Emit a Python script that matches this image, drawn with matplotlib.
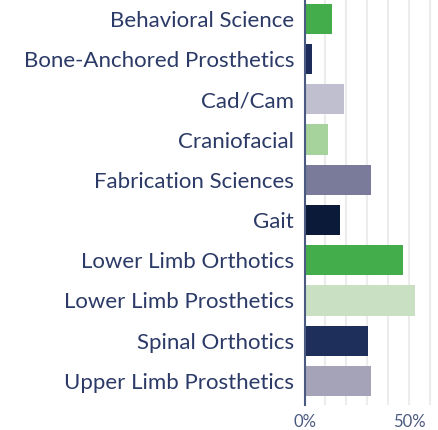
import matplotlib.pyplot as plt
import numpy as np

categories = ['Behavioral Science', 'Bone-Anchored Prosthetics', 'Cad/Cam',
              'Craniofacial', 'Fabrication Sciences', 'Gait',
              'Lower Limb Orthotics', 'Lower Limb Prosthetics',
              'Spinal Orthotics', 'Upper Limb Prosthetics']
values = [13.2, 3.6, 18.9, 11.2, 31.8, 17.0, 47.1, 52.9, 30.2, 31.8]
colors = ['#44ad4b', '#1c2d5c', '#c0bfd0', '#a6d39b', '#7a7a9a',
          '#0c1a3a', '#44ad4b', '#c9e0c2', '#1e2f5c', '#a4a3b8']
tick_vals = [0, 50]
tick_labels = ['0%', '50%']
grid_vals = [10, 20, 30, 40, 50, 60]

text_color = '#2b3a66'
axis_color = '#4b5a80'

fig = plt.figure(figsize=(4.39, 4.30), dpi=100)
ax = fig.add_axes([304.5 / 439, 1 - 405 / 430, 1 - 304.5 / 439, 405 / 430])

y = np.arange(len(categories))
ax.barh(y, values, height=0.75, color=colors, zorder=2)

ax.set_xlim(0, 64.4)
ax.set_ylim(9.6, -0.47)

ax.set_yticks(y)
ax.set_yticklabels(categories, fontsize=16, color=text_color, family='Lato')
ax.set_xticks(tick_vals)
ax.set_xticklabels(tick_labels, fontsize=12, color=axis_color, family='Lato')
ax.set_xticks(grid_vals, minor=True)
ax.tick_params(axis='y', length=0, pad=7.5)
ax.tick_params(axis='x', which='both', length=0, pad=6.5)

for g in grid_vals:
    ax.axvline(g, color='#ececec', lw=1.5, zorder=1)

for s in ['top', 'right', 'bottom']:
    ax.spines[s].set_visible(False)
ax.spines['left'].set_color(axis_color)
ax.spines['left'].set_linewidth(1.5)
ax.spines['left'].set_zorder(3)

fig.savefig('out.png', dpi=100)
